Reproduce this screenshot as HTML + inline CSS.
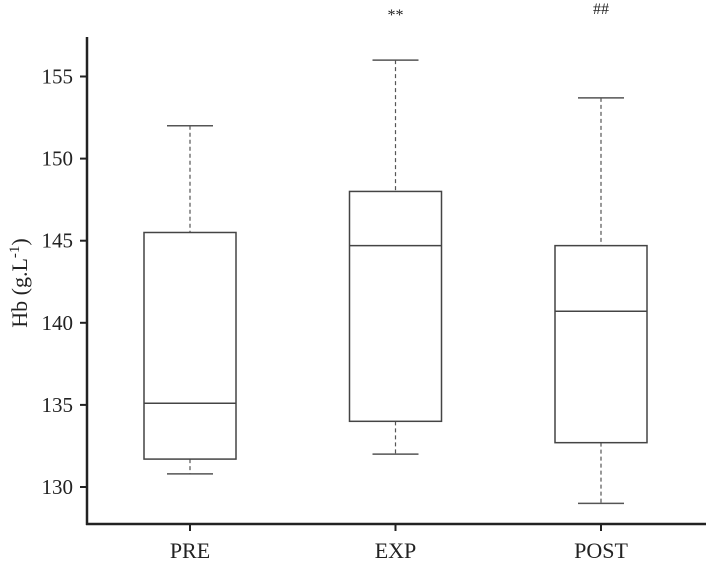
<!DOCTYPE html>
<html><head><meta charset="utf-8"><style>
html,body{margin:0;padding:0;background:#fff;}
svg{display:block;font-family:"Liberation Serif",serif;}
</style></head><body>
<svg id="chart" width="708" height="563" viewBox="0 0 708 563" xmlns="http://www.w3.org/2000/svg">
<g id="axes"></g><g id="boxes"></g>
<text transform="translate(27,283) rotate(-90)" text-anchor="middle" font-size="22" fill="#222">Hb (g.L<tspan dy="-8" font-size="15">-1</tspan><tspan dy="8">)</tspan></text>
</svg>
<script>
const categories = ["PRE","EXP","POST"];
const mins = [130.8,132,129];
const q1s = [131.7,134,132.7];
const medians = [135.1,144.7,140.7];
const q3s = [145.5,148,144.7];
const maxs = [152,156,153.7];
const annotations = ["","**","##"];
const yTicks = [130,135,140,145,150,155];

const NS="http://www.w3.org/2000/svg";
function y(v){return 487-(v-130)*16.42;}
function x(i){return 190+i*205.5;}
const axes=document.getElementById('axes'), boxes=document.getElementById('boxes');
function mk(tag,attrs,parent){const e=document.createElementNS(NS,tag);for(const k in attrs)e.setAttribute(k,attrs[k]);parent.appendChild(e);return e;}

let yl=mk('line',{x1:87,y1:37,x2:87,y2:525,stroke:'#222','stroke-width':2.5},axes);


let xl=mk('line',{x1:86,y1:524,x2:706,y2:524,stroke:'#222','stroke-width':2.5},axes);


yTicks.forEach(t=>{
  let tk=mk('line',{x1:80,y1:y(t),x2:87,y2:y(t),stroke:'#222','stroke-width':2},axes);
  
  
  let tl=mk('text',{x:73,y:y(t)+7,'text-anchor':'end','font-size':21,fill:'#222'},axes);
  tl.textContent=t;
  
  
});
categories.forEach((c,i)=>{
  const cx=x(i);
  let tk=mk('line',{x1:cx,y1:524,x2:cx,y2:531,stroke:'#222','stroke-width':2},axes);
  
  
  let tl=mk('text',{x:cx,y:558,'text-anchor':'middle','font-size':22,fill:'#222'},axes);
  tl.textContent=c;
  
  
  const g=mk('g',{},boxes);
  
  
  mk('line',{x1:cx,y1:y(maxs[i]),x2:cx,y2:y(q3s[i]),stroke:'#555','stroke-width':1.2,'stroke-dasharray':'4,3'},g);
  mk('line',{x1:cx,y1:y(q1s[i]),x2:cx,y2:y(mins[i]),stroke:'#555','stroke-width':1.2,'stroke-dasharray':'4,3'},g);
  mk('line',{x1:cx-23,y1:y(maxs[i]),x2:cx+23,y2:y(maxs[i]),stroke:'#555','stroke-width':1.5},g);
  mk('line',{x1:cx-23,y1:y(mins[i]),x2:cx+23,y2:y(mins[i]),stroke:'#555','stroke-width':1.5},g);
  mk('rect',{x:cx-46,y:y(q3s[i]),width:92,height:y(q1s[i])-y(q3s[i]),fill:'none',stroke:'#444','stroke-width':1.5},g);
  mk('line',{x1:cx-46,y1:y(medians[i]),x2:cx+46,y2:y(medians[i]),stroke:'#444','stroke-width':1.5},g);
  if(annotations[i]){
    let a=mk('text',{x:cx,y:i==1?20:14,'text-anchor':'middle','font-size':16,fill:'#222'},g);
    a.textContent=annotations[i];
    
    
  }
});
</script>
</body></html>
